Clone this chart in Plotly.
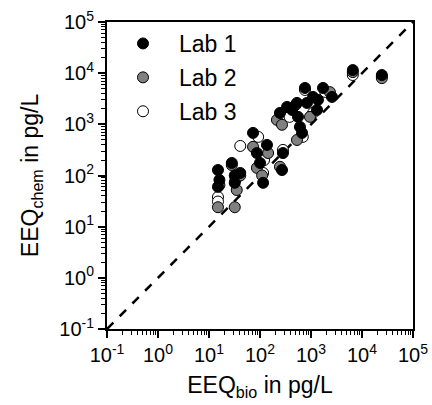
import plotly.graph_objects as go

# Lab data (EEQ_bio, EEQ_chem) in pg/L
lab1_x = [15, 16, 28, 41, 32, 73, 87, 137, 100, 115, 282, 270, 246, 339, 426, 531, 556, 608, 667, 762, 1096, 832, 1313, 1720, 2580, 1370, 6600, 24500, 15, 32]
lab1_y = [128, 82, 176, 112, 72, 680, 275, 396, 176, 72, 275, 128, 1670, 2190, 1910, 2620, 1400, 890, 680, 5140, 3430, 2620, 1910, 5140, 3430, 3000, 11500, 9200, 60, 100]

lab2_x = [35, 15, 32, 28, 73, 144, 87, 246, 215, 270, 531, 955, 2350, 6600, 24500, 16, 41, 110, 500]
lab2_y = [52, 24, 24, 160, 363, 275, 141, 148, 1220, 980, 495, 1400, 4260, 10500, 8000, 65, 100, 100, 2400]

lab3_x = [15, 15, 92, 41, 115, 282, 690, 762, 1096, 6600, 33, 120, 380, 1900, 24500]
lab3_y = [38, 31, 568, 378, 112, 316, 568, 4700, 1670, 9200, 82, 200, 1400, 4300, 8600]

line_x = [0.1, 100000]
line_y = [0.1, 100000]

tick_vals = [0.1, 1, 10, 100, 1000, 10000, 100000]
tick_text = ["10<sup>-1</sup>", "10<sup>0</sup>", "10<sup>1</sup>", "10<sup>2</sup>",
             "10<sup>3</sup>", "10<sup>4</sup>", "10<sup>5</sup>"]

FONT = "Liberation Sans, Arial, sans-serif"

fig = go.Figure()
fig.add_trace(go.Scatter(x=line_x, y=line_y, mode="lines", showlegend=False,
                         line=dict(color="black", width=2.5, dash="dash"), hoverinfo="skip"))

mk = dict(size=11, line=dict(color="black", width=1))
fig.add_trace(go.Scatter(x=lab3_x, y=lab3_y, mode="markers", name="Lab 3", legendrank=3,
                         legendgroup="g3", marker=dict(color="white", **mk)))
fig.add_trace(go.Scatter(x=lab2_x, y=lab2_y, mode="markers", name="Lab 2", legendrank=2,
                         legendgroup="g2", marker=dict(color="#808080", **mk)))
fig.add_trace(go.Scatter(x=lab1_x, y=lab1_y, mode="markers", name="Lab 1", legendrank=1,
                         legendgroup="g1", marker=dict(color="black", **mk)))

axis_common = dict(
    type="log", range=[-1, 5], tickvals=tick_vals, ticktext=tick_text,
    ticks="outside", ticklen=7, tickwidth=1.5, tickcolor="black",
    showline=True, linecolor="black", linewidth=2, mirror=True,
    showgrid=False, zeroline=False, automargin=False,
    tickfont=dict(family=FONT, size=20, color="black"),
    minor=dict(ticks="outside", ticklen=4, tickwidth=1, tickcolor="black",
               dtick="D1", showgrid=False),
)

fig.update_layout(
    width=432, height=405,
    margin=dict(l=107, r=19, t=22, b=76),
    paper_bgcolor="white", plot_bgcolor="white",
    font=dict(family=FONT, color="black"),
    xaxis=dict(title=dict(text="EEQ<sub>bio</sub> in pg/L", font=dict(size=23), standoff=12), **axis_common),
    yaxis=dict(title=dict(text="EEQ<sub>chem</sub> in pg/L", font=dict(size=23), standoff=14), **axis_common),
    legend=dict(x=0.0, y=1.0, xanchor="left", yanchor="top", bgcolor="rgba(0,0,0,0)",
                font=dict(family=FONT, size=23, color="black"),
                tracegroupgap=1, itemwidth=62),
)

fig.write_html("out.html")
